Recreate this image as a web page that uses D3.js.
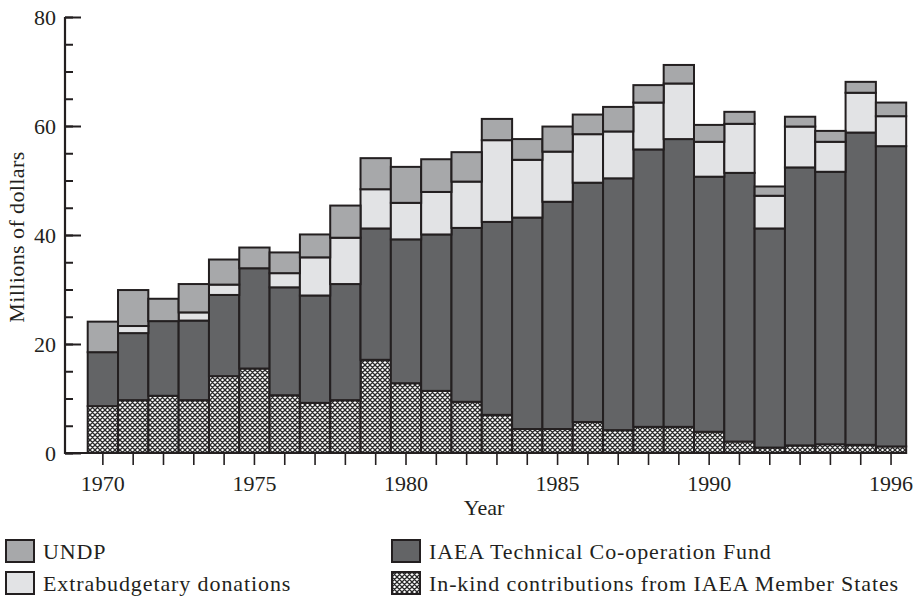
<!DOCTYPE html>
<html>
<head>
<meta charset="utf-8">
<script src="https://cdn.jsdelivr.net/npm/d3@7"></script>
<style>
  body { margin: 0; background: #fff; }
  svg { display: block; font-family: "Liberation Serif", "Times New Roman", serif; }
</style>
</head>
<body>
<div id="vis"></div>
<script>
// data, millions of dollars (segment heights, bottom to top)
var years   = d3.range(1970, 1997);
var inKind  = [8.6, 9.7, 10.5, 9.7, 14.1, 15.5, 10.6, 9.2, 9.7, 17.1, 12.8, 11.4, 9.4, 7.0, 4.4, 4.4, 5.7, 4.2, 4.8, 4.8, 3.9, 2.1, 1.0, 1.4, 1.6, 1.5, 1.2];
var tcFund  = [9.9, 12.3, 13.7, 14.6, 14.9, 18.4, 19.8, 19.7, 21.3, 24.1, 26.4, 28.7, 31.9, 35.4, 38.8, 41.7, 43.9, 46.2, 50.9, 52.8, 46.8, 49.3, 40.2, 51.0, 50.0, 57.3, 55.1];
var extra   = [0, 1.3, 0, 1.5, 1.9, 0, 2.6, 7.0, 8.5, 7.2, 6.7, 7.8, 8.5, 15.0, 10.6, 9.2, 8.9, 8.6, 8.6, 10.2, 6.4, 9.0, 6.0, 7.5, 5.5, 7.3, 5.5];
var undp    = [5.6, 6.6, 4.1, 5.2, 4.6, 3.8, 3.8, 4.2, 5.9, 5.7, 6.6, 6.0, 5.4, 3.9, 3.8, 4.6, 3.6, 4.5, 3.2, 3.4, 3.1, 2.2, 1.7, 1.8, 2.0, 2.0, 2.5];
var labelYears = [1970, 1975, 1980, 1985, 1990, 1996];
var yTicks = [0, 20, 40, 60, 80];

var seriesKeys = ["inKind", "tcFund", "extra", "undp"];
var seriesNames = {
  undp: "UNDP",
  extra: "Extrabudgetary donations",
  tcFund: "IAEA Technical Co-operation Fund",
  inKind: "In-kind contributions from IAEA Member States"
};
var fills = { undp: "#a7a8aa", extra: "#e2e3e5", tcFund: "#636466", inKind: "url(#hatch)" };
var ink = "#231f20";

var width = 917, height = 599;
var svg = d3.select("#vis").append("svg").attr("width", width).attr("height", height);

// crosshatch for in-kind contributions
var defs = svg.append("defs");
var pat = defs.append("pattern").attr("id", "hatch")
  .attr("patternUnits", "userSpaceOnUse").attr("width", 5).attr("height", 5);
pat.append("rect").attr("width", 5).attr("height", 5).attr("fill", "#fff");
pat.append("path").attr("d", "M0,0L5,5M5,0L0,5M-1,4L1,6M4,-1L6,1M-1,1L1,-1M4,6L6,4")
  .attr("stroke", "#2a2a2a").attr("stroke-width", 1.3);

// table for the stack
var table = years.map(function(yr, i) {
  return { year: yr, inKind: inKind[i], tcFund: tcFund[i], extra: extra[i], undp: undp[i] };
});
var stacked = d3.stack().keys(seriesKeys)(table);

var axisX = 65, axisY = 453;
var x = d3.scaleBand().domain(years).range([87.7, 906.2]).padding(0);
var y = d3.scaleLinear().domain([0, 80]).range([axisY, 17]);

// bars
svg.append("g").selectAll("g")
  .data(stacked)
  .enter().append("g")
  .attr("fill", function(s) { return fills[s.key]; })
  .selectAll("rect")
  .data(function(s) { return s.filter(function(d) { return d[1] - d[0] > 0; }); })
  .enter().append("rect")
  .attr("x", function(d) { return x(d.data.year); })
  .attr("width", x.bandwidth())
  .attr("y", function(d) { return y(d[1]); })
  .attr("height", function(d) { return y(d[0]) - y(d[1]); })
  .attr("stroke", ink).attr("stroke-width", 2);

// y axis: minor ticks, major ticks, labels
var yMinor = d3.axisRight(y).tickValues(d3.range(0, 81, 5)).tickSize(8).tickFormat("");
var yMajor = d3.axisRight(y).tickValues(yTicks).tickSize(16).tickFormat("");
var yLab = d3.axisLeft(y).tickValues(yTicks).tickSize(0).tickPadding(9).tickFormat(d3.format("d"));
[yMinor, yMajor].forEach(function(ax) {
  var g = svg.append("g").attr("transform", "translate(" + axisX + ",0)").call(ax);
  g.select(".domain").remove();
  g.selectAll("line").attr("stroke", ink).attr("stroke-width", 2);
});
var gl = svg.append("g").attr("transform", "translate(" + axisX + ",0)").call(yLab);
gl.select(".domain").remove();
gl.selectAll("text").attr("font-size", 22).attr("fill", "#231f20")
  .attr("font-family", "Liberation Serif, serif");

// x axis
var xAx = d3.axisBottom(x).tickSize(12).tickPadding(10)
  .tickFormat(function(d) { return labelYears.indexOf(d) >= 0 ? d : ""; });
var gx = svg.append("g").attr("transform", "translate(0," + axisY + ")").call(xAx);
gx.select(".domain").remove();
gx.selectAll("line").attr("stroke", ink).attr("stroke-width", 1.6);
gx.selectAll("text").attr("font-size", 22).attr("fill", "#231f20")
  .attr("font-family", "Liberation Serif, serif");

// axis lines
svg.append("path")
  .attr("d", "M" + axisX + "," + y(80) + "V" + axisY + "H907")
  .attr("fill", "none").attr("stroke", ink).attr("stroke-width", 2.2);

// axis titles
svg.append("text").attr("x", 484).attr("y", 515).attr("text-anchor", "middle")
  .attr("font-size", 22).attr("fill", "#231f20").text("Year");
svg.append("text").attr("transform", "translate(24,237) rotate(-90)").attr("text-anchor", "middle")
  .attr("font-size", 22).attr("letter-spacing", 0.4).attr("fill", "#231f20").text("Millions of dollars");

// legend
var legendItems = [
  { key: "undp", x: 6, y: 540 },
  { key: "extra", x: 6, y: 572 },
  { key: "tcFund", x: 392, y: 540 },
  { key: "inKind", x: 392, y: 572 }
];
var lg = svg.append("g").selectAll("g").data(legendItems).enter().append("g")
  .attr("transform", function(d) { return "translate(" + d.x + "," + d.y + ")"; });
lg.append("rect").attr("width", 28).attr("height", 22)
  .attr("fill", function(d) { return fills[d.key]; })
  .attr("stroke", ink).attr("stroke-width", 2);
lg.append("text").attr("x", 37).attr("y", 19)
  .attr("font-size", 22).attr("letter-spacing", 0.9).attr("fill", "#231f20")
  .text(function(d) { return seriesNames[d.key]; });
</script>
</body>
</html>
